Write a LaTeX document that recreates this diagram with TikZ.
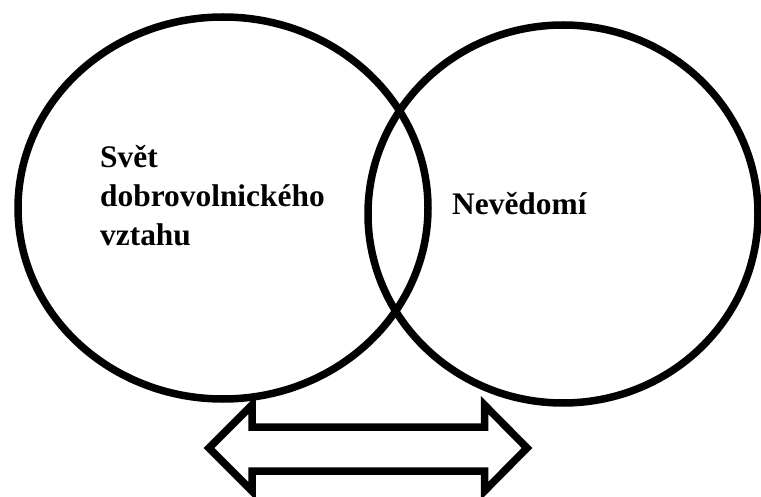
\documentclass[tikz,border=0pt]{standalone}
\usepackage{fontspec}
\setmainfont{Liberation Serif}
\usetikzlibrary{shapes.geometric}
\begin{document}
\begin{tikzpicture}[x=1pt,y=-1pt,
  ring/.style={draw=black,line width=7.5pt,ellipse,inner sep=0pt},
  label/.style={font=\fontsize{31.4}{39}\selectfont\bfseries,inner sep=0pt,align=left,anchor=base west},
  dblarrow/.style={draw=black,fill=white,line width=7.5pt,line join=miter}]
\useasboundingbox (0,0) rectangle (761,497);
\node[ring,minimum width=410pt,minimum height=382pt] (lc) at (223,208) {};
\node[ring,minimum width=390pt,minimum height=378pt] (rc) at (563,214) {};
\node[label] (lt) at (100,246) {Svět\\dobrovolnického\\vztahu};
\node[label] (rt) at (452,215) {Nevědomí};
\draw[dblarrow] (209,448) -- (252,405) -- (252,427) -- (484.5,427) -- (484.5,405)
  -- (527,448) -- (484.5,491) -- (484.5,471) -- (252,471) -- (252,491) -- cycle;
\end{tikzpicture}
\end{document}
